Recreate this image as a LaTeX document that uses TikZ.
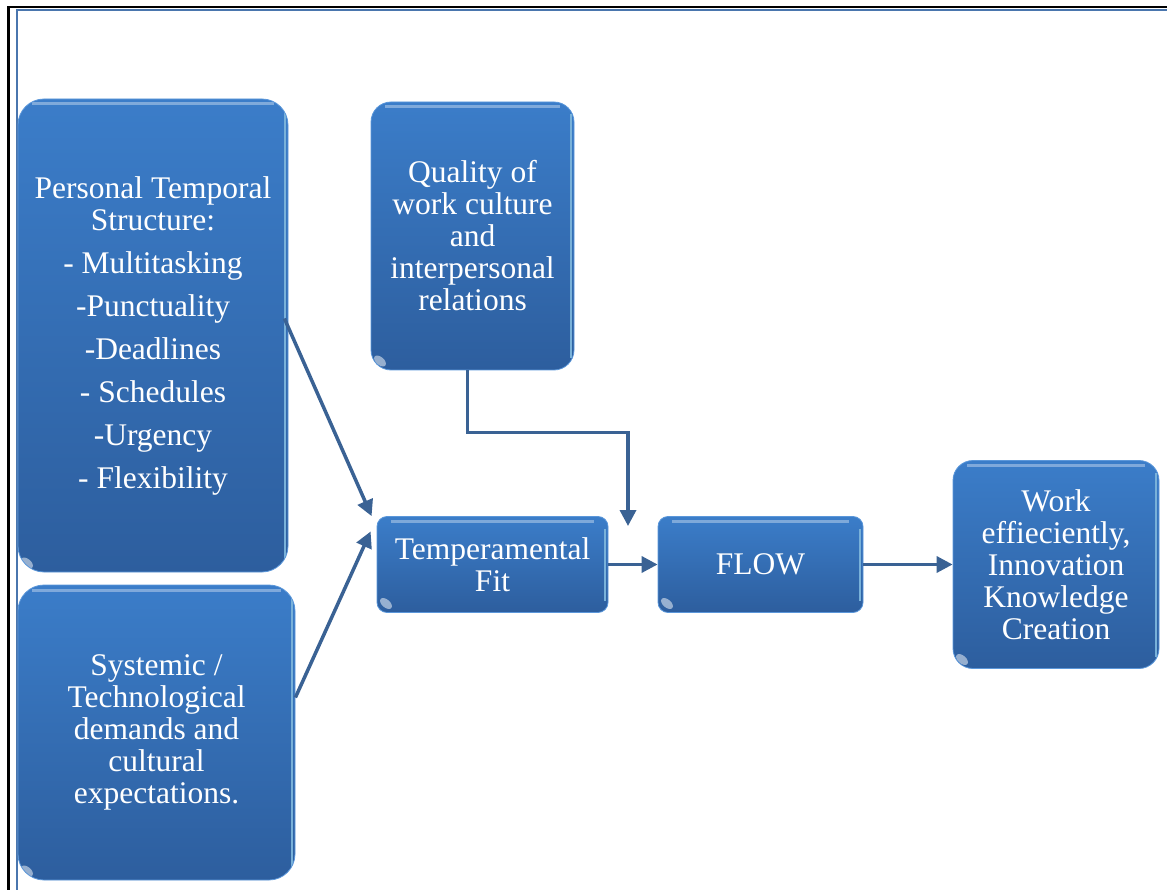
\documentclass[tikz,border=0pt]{standalone}
\usepackage{fontspec}
\setmainfont{Liberation Serif}
\usetikzlibrary{arrows.meta,calc}
\definecolor{boxtop}{HTML}{3B7DC9}
\definecolor{boxbot}{HTML}{2D5E9E}
\definecolor{boxedge}{HTML}{5B97DA}
\definecolor{arrowblue}{HTML}{3A6294}
\definecolor{frameblue}{HTML}{4A76AE}
\begin{document}
\begin{tikzpicture}[x=1pt,y=-1pt,
  card/.style={rounded corners=#1, top color=boxtop, bottom color=boxbot,
    draw=boxedge, line width=0.8pt, text=white, align=center,
    font=\fontsize{31.5}{32}\selectfont, inner sep=0pt,
    path picture={
      % glossy stripe along the top edge
      \draw[white, opacity=0.35, line width=3pt]
        ([xshift=14pt,yshift=-5pt]path picture bounding box.north west) --
        ([xshift=-14pt,yshift=-5pt]path picture bounding box.north east);
      % light rim on the right side
      \draw[white!55!cyan!60!boxtop, line width=2.5pt]
        ([xshift=-3pt,yshift=-12pt]path picture bounding box.north east) --
        ([xshift=-3pt,yshift=12pt]path picture bounding box.south east);
      % small shine in the lower left corner
      \fill[white, opacity=0.5]
        ([xshift=9pt,yshift=9pt]path picture bounding box.south west)
        ellipse [x radius=7pt, y radius=4pt, rotate=-40];
    }},
  arr/.style={draw=arrowblue, line width=3.5pt,
    -{Triangle[length=16pt,width=16pt]}}]

\useasboundingbox (0,0) rectangle (1167,890);

% page frame
\draw[black, line width=2.5pt] (8.5,890) -- (8.5,7) -- (1167,7);
\draw[frameblue, line width=2pt] (16.5,890) -- (16.5,10) -- (1167,10);

% boxes
\node[card=26pt, minimum width=270pt, minimum height=473pt] (pts) at (153,335.5)
  {Personal Temporal\\ Structure:\\[11pt] - Multitasking\\[11pt] -Punctuality\\[11pt]
   -Deadlines\\[11pt] - Schedules\\[11pt] -Urgency\\[11pt] - Flexibility};
\node[card=26pt, minimum width=277pt, minimum height=295pt] (sys) at (156.5,732.5)
  {Systemic /\\ Technological\\ demands and\\ cultural\\ expectations.};
\node[card=20pt, minimum width=203pt, minimum height=268pt] (qual) at (472.5,236)
  {Quality of\\ work culture\\ and\\ interpersonal\\ relations};
\node[card=10pt, minimum width=231pt, minimum height=96pt] (fit) at (492.5,564.5)
  {Temperamental\\ Fit};
\node[card=10pt, minimum width=205pt, minimum height=96pt] (flow) at (760.5,564.5)
  {FLOW};
\node[card=20pt, minimum width=206pt, minimum height=208pt] (work) at (1056,564.5)
  {Work\\ effieciently,\\ Innovation\\ Knowledge\\ Creation};

% connectors
\coordinate (drop) at (628,526);
\draw[arr] ([xshift=-4pt,yshift=17pt]pts.east) -- ([xshift=-5pt]fit.north west);
\draw[arr] ([yshift=35pt]sys.east) -- ([xshift=-6pt,yshift=33pt]fit.west);
\draw[arr] ([xshift=-5pt]qual.south) -- ++(0,62) -| (drop);
\draw[arr] (fit.east) -- (flow.west);
\draw[arr] (flow.east) -- (work.west);
\end{tikzpicture}
\end{document}
